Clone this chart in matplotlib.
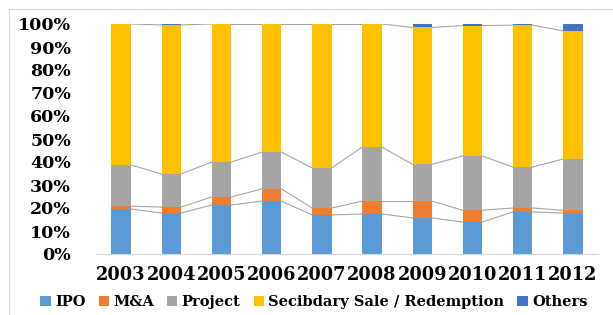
import matplotlib
matplotlib.use("Agg")
import matplotlib.pyplot as plt
import numpy as np
from matplotlib.patches import Rectangle

years = ["2003", "2004", "2005", "2006", "2007", "2008", "2009", "2010", "2011", "2012"]
ipo = [19.6, 17.8, 21.3, 23.0, 17.0, 17.4, 15.7, 13.9, 18.3, 17.8]
mna = [1.2, 2.6, 3.5, 5.3, 3.0, 5.6, 7.3, 5.1, 1.7, 1.2]
project = [17.9, 14.4, 15.2, 16.0, 17.4, 23.5, 16.0, 23.6, 17.8, 22.3]
others = [0.0, 0.4, 0.0, 0.0, 0.0, 0.0, 1.5, 0.7, 0.5, 3.0]
secondary = [100 - a - b - c - d for a, b, c, d in zip(ipo, mna, project, others)]

series = [
    ("IPO", ipo, "#5B9BD5"),
    ("M&A", mna, "#ED7D31"),
    ("Project", project, "#A5A5A5"),
    ("Secibdary Sale / Redemption", secondary, "#FFC000"),
    ("Others", others, "#4472C4"),
]

W, H = 613, 315
fig = plt.figure(figsize=(W / 100, H / 100), dpi=100)
ax = fig.add_axes([96 / W, (H - 254) / H, (598 - 96) / W, (254 - 24) / H])

x = np.arange(len(years))
bw = 0.39
bottom = np.zeros(len(years))
tops = []
for name, vals, col in series:
    v = np.array(vals) / 100.0
    ax.bar(x, v, bw, bottom=bottom, color=col, label=name, zorder=2)
    bottom = bottom + v
    tops.append(bottom.copy())

# series lines
for t in tops[:-1]:
    for i in range(len(years) - 1):
        ax.plot([x[i] + bw / 2, x[i + 1] - bw / 2], [t[i], t[i + 1]],
                color="#A6A6A6", lw=0.8, zorder=1)

ax.set_xlim(-0.5, len(years) - 0.5)
ax.set_ylim(0, 1)
ax.set_yticks(np.arange(0, 1.01, 0.1))
ax.set_yticklabels([f"{int(round(v * 100))}%" for v in np.arange(0, 1.01, 0.1)])
ax.set_xticks(x)
ax.set_xticklabels(years)
for s in ["top", "right", "left"]:
    ax.spines[s].set_visible(False)
ax.spines["bottom"].set_color("#D9D9D9")
ax.tick_params(axis="both", length=0)
ax.tick_params(axis="y", pad=18)
ax.tick_params(axis="x", pad=9)
for lab in ax.get_yticklabels():
    lab.set_fontfamily("DejaVu Serif"); lab.set_fontweight("bold"); lab.set_fontsize(12.5)
for lab in ax.get_xticklabels():
    lab.set_fontfamily("DejaVu Serif"); lab.set_fontweight("bold"); lab.set_fontsize(12.8)

leg = fig.legend(loc="center", bbox_to_anchor=(314 / W, (H - 302) / H), ncol=5,
                 frameon=False, handlelength=0.7, handleheight=0.7, handletextpad=0.3,
                 columnspacing=0.9, prop=dict(family="DejaVu Serif", weight="bold", size=10.5))

fig.patches.append(Rectangle((9 / W, -0.1), 1.2, (H - 9) / H + 0.1, transform=fig.transFigure,
                             fill=False, edgecolor="#D9D9D9", lw=0.8))

fig.savefig("out.png", dpi=100)
